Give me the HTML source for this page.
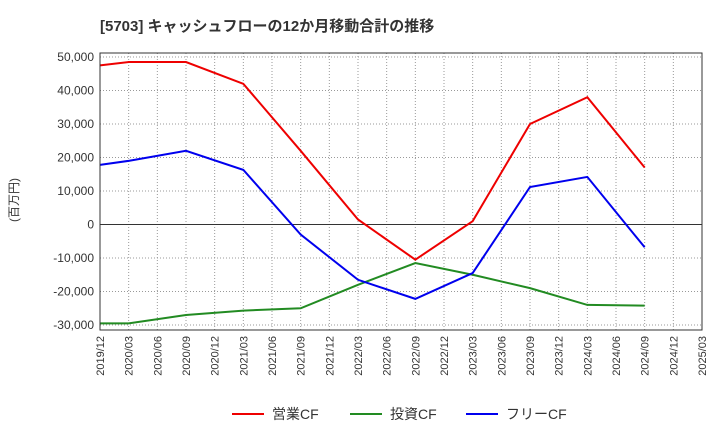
<!DOCTYPE html>
<html><head><meta charset="utf-8"><style>
body{margin:0;background:#fff;font-family:"Liberation Sans","Noto Sans CJK JP",sans-serif}
</style></head><body>
<svg id="c" width="720" height="440" xmlns="http://www.w3.org/2000/svg">
<text x="100" y="31" font-size="15" font-weight="bold" fill="#333" font-family="Liberation Sans, Noto Sans CJK JP, sans-serif">[5703]  キャッシュフローの12か月移動合計の推移</text>
<text transform="translate(18,200) rotate(-90)" font-size="12" fill="#333" text-anchor="middle" font-family="Liberation Sans, Noto Sans CJK JP, sans-serif">(百万円)</text>
<g id="grid"></g><g id="series"></g><g id="axes"></g>
<g font-size="14" font-family="Liberation Sans, Noto Sans CJK JP, sans-serif" fill="#333">
<line x1="232" y1="414" x2="264" y2="414" stroke="#e00" stroke-width="2"/><text x="272" y="419">営業CF</text>
<line x1="350" y1="414" x2="382" y2="414" stroke="#228b22" stroke-width="2"/><text x="390" y="419">投資CF</text>
<line x1="466" y1="414" x2="498" y2="414" stroke="#00e" stroke-width="2"/><text x="506" y="419">フリーCF</text>
</g>
</svg>
<script>
const categories=["2019/12","2020/03","2020/06","2020/09","2020/12","2021/03","2021/06","2021/09","2021/12","2022/03","2022/06","2022/09","2022/12","2023/03","2023/06","2023/09","2023/12","2024/03","2024/06","2024/09","2024/12","2025/03"];
const yTicks=[50000,40000,30000,20000,10000,0,-10000,-20000,-30000];
const pointDates=["2019/12","2020/03","2020/09","2021/03","2021/09","2022/03","2022/09","2023/03","2023/09","2024/03","2024/09"];
const operatingCF=[47500,48500,48500,42000,22000,1500,-10500,1000,30000,38000,17000];
const investingCF=[-29500,-29500,-27000,-25700,-25000,-18000,-11500,-15000,-19000,-24000,-24200];
const freeCF=[17800,19000,22000,16300,-3000,-16500,-22200,-14500,11200,14200,-6800];
const NS="http://www.w3.org/2000/svg";
const L=100,R=702,T=53,B=330;
const x=c=>L+categories.indexOf(c)*(R-L)/(categories.length-1);
const y=v=>224.5-v*(268/80000);
function mk(t,a,p){const e=document.createElementNS(NS,t);for(const k in a)e.setAttribute(k,a[k]);p.appendChild(e);return e;}
const g=document.getElementById('grid'),ax=document.getElementById('axes'),s=document.getElementById('series');
categories.forEach(c=>{
 const l=mk('line',{x1:x(c),x2:x(c),y1:T,y2:B,stroke:'#999','stroke-dasharray':'1,2','stroke-width':1},g);
 
 
 const t=mk('text',{transform:`translate(${x(c)+4},${B+6}) rotate(-90)`,'font-size':11,fill:'#333','text-anchor':'end'},ax);
 t.textContent=c;
 
 
});
yTicks.forEach(v=>{
 const l=mk('line',{x1:L,x2:R,y1:y(v),y2:y(v),stroke:v===0?'#333':'#999','stroke-dasharray':v===0?'':'1,2','stroke-width':1},g);
 
 
 const t=mk('text',{x:L-6,y:y(v)+4,'font-size':12,fill:'#333','text-anchor':'end'},ax);
 t.textContent=v.toLocaleString('en-US');
 
 
});
const fr=mk('rect',{x:L,y:T,width:R-L,height:B-T,fill:'none',stroke:'#333'},ax);


[[operatingCF,'#e00','operating-cf-line'],[investingCF,'#228b22','investing-cf-line'],[freeCF,'#00e','free-cf-line']].forEach(([d,col,n])=>{
 const p=mk('polyline',{points:d.map((v,i)=>x(pointDates[i])+','+y(v)).join(' '),fill:'none',stroke:col,'stroke-width':2},s);
 
 
});
</script>
</body></html>
